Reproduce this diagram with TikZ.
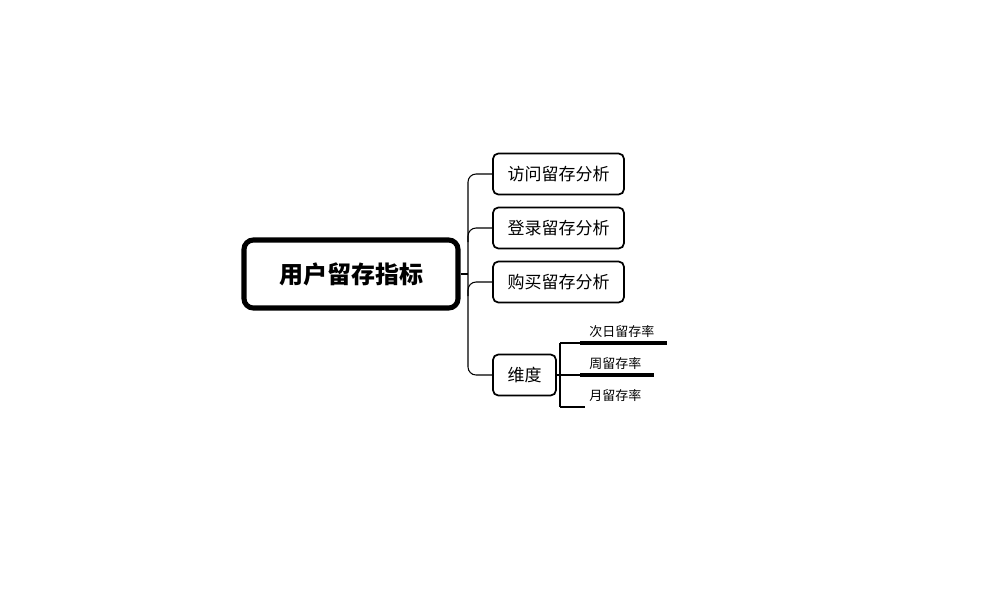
\documentclass[tikz,border=0pt]{standalone}
\usepackage{fontspec}
\newfontfamily\cjk{Noto Sans CJK SC}
\usetikzlibrary{calc}
\begin{document}
\begin{tikzpicture}[x=0.75pt,y=-0.75pt,
  mainbox/.style={draw=black,line width=3.8pt,rounded corners=7pt,minimum width=160.5pt,minimum height=51pt,inner sep=0pt,font=\cjk\bfseries\fontsize{18pt}{20pt}\selectfont},
  subbox/.style={draw=black,line width=1.3pt,rounded corners=4pt,minimum height=30.75pt,inner sep=0pt,font=\cjk\fontsize{12.75pt}{14pt}\selectfont},
  lbl/.style={inner sep=0pt,font=\cjk\fontsize{9.75pt}{11pt}\selectfont},
  conn/.style={draw=black,line width=0.8pt},
  bar/.style={draw=black,line width=2.3pt}]
\useasboundingbox (0,0) rectangle (1000,600);
\node[mainbox] (main) at (351,274) {用户留存指标};
\node[subbox,minimum width=98.25pt] (b1) at (558.5,174) {访问留存分析};
\node[subbox,minimum width=98.25pt] (b2) at (558.5,228) {登录留存分析};
\node[subbox,minimum width=98.25pt] (b3) at (558.5,282) {购买留存分析};
\node[subbox,minimum width=47.25pt] (b4) at (524.5,375) {维度};
\coordinate (j) at (468,274);
\draw[conn] (main.east) -- (j);
\draw[conn,rounded corners=6pt] (b1.west) -| (j) |- (b4.west);
\draw[conn,rounded corners=6pt] (b2.west) -| ($(b2.west -| j)+(0,14)$);
\draw[conn,rounded corners=6pt] (b3.west) -| ($(b3.west -| j)+(0,14)$);
% sub branches
\coordinate (k) at (560,375);
\coordinate (t1) at (580,343);
\coordinate (t2) at (580,375);
\coordinate (t3) at (585,407);
\node[lbl,anchor=south west] (l1) at (589,338) {次日留存率};
\node[lbl,anchor=south west] (l2) at (589,370) {周留存率};
\node[lbl,anchor=south west] (l3) at (589,402) {月留存率};
\draw[conn] (k |- t1) -- (k |- t3);
\draw[conn] (k |- t1) -- (t1);
\draw[conn] (b4.east) -- (t2);
\draw[conn] (k |- t3) -- (t3);
\draw[bar] (t1) -- ($(t1 -| l1.east)+(12,0)$);
\draw[bar] (t2) -- ($(t2 -| l2.east)+(12,0)$);
\end{tikzpicture}
\end{document}
